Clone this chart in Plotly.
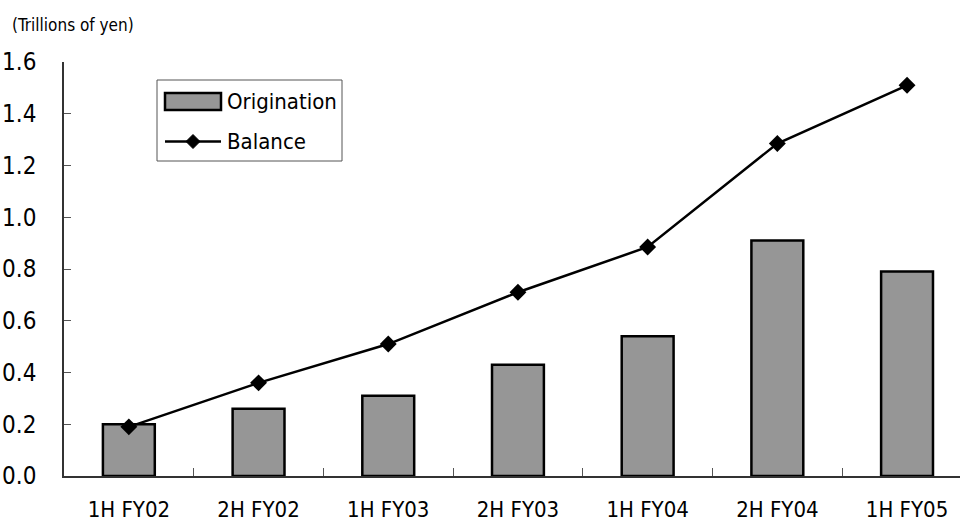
import plotly.graph_objects as go

# Half-year periods and amounts (trillions of yen)
periods = ["1H FY02", "2H FY02", "1H FY03", "2H FY03", "1H FY04", "2H FY04", "1H FY05"]
origination = [0.20, 0.26, 0.31, 0.43, 0.54, 0.91, 0.79]
balance = [0.19, 0.36, 0.51, 0.71, 0.885, 1.285, 1.51]
y_ticks = [0.0, 0.2, 0.4, 0.6, 0.8, 1.0, 1.2, 1.4, 1.6]

FONT = "DejaVu Sans Condensed, Liberation Sans Narrow, Arial Narrow, sans-serif"
BAR_FILL = "#969696"
W, H = 960, 526
L, R, T, B = 64, 0, 62, 50

fig = go.Figure()
fig.add_trace(go.Bar(
    x=periods, y=origination, name="Origination", width=0.4,
    marker=dict(color=BAR_FILL, line=dict(color="black", width=2.5)),
    showlegend=False,
))
fig.add_trace(go.Scatter(
    x=periods, y=balance, name="Balance", mode="lines+markers",
    line=dict(color="black", width=2.5),
    marker=dict(symbol="diamond", size=13, color="black"),
    showlegend=False,
))

# helpers converting page pixels to paper coordinates (for the legend box)
pw, ph = W - L - R, H - T - B
def px(x):
    return (x - L) / pw
def py(y):
    return (H - B - y) / ph

shapes = [
    dict(type="rect", xref="paper", yref="paper", x0=px(157), x1=px(342), y0=py(80), y1=py(161),
         line=dict(color="#555555", width=1), fillcolor="white", layer="above"),
    dict(type="rect", xref="paper", yref="paper", x0=px(165), x1=px(221), y0=py(93), y1=py(110),
         line=dict(color="black", width=2.5), fillcolor=BAR_FILL, layer="above"),
    dict(type="line", xref="paper", yref="paper", x0=px(165), x1=px(221), y0=py(141.5), y1=py(141.5),
         line=dict(color="black", width=2.5), layer="above"),
    dict(type="path", xref="paper", yref="paper",
         path=f"M {px(193)},{py(134.5)} L {px(200)},{py(141.5)} L {px(193)},{py(148.5)} L {px(186)},{py(141.5)} Z",
         fillcolor="black", line=dict(color="black", width=1), layer="above"),
]

annotations = [
    dict(text="Origination", xref="paper", yref="paper", x=px(225), y=py(101.5),
         xanchor="left", yanchor="middle", showarrow=False, font=dict(size=22, color="black", family=FONT)),
    dict(text="Balance", xref="paper", yref="paper", x=px(225), y=py(141.5),
         xanchor="left", yanchor="middle", showarrow=False, font=dict(size=22, color="black", family=FONT)),
    dict(text="(Trillions of yen)", xref="paper", yref="paper", x=px(10), y=py(25),
         xanchor="left", yanchor="middle", showarrow=False, font=dict(size=17, color="black", family=FONT)),
]

fig.update_layout(
    width=W, height=H,
    margin=dict(l=L, r=R, t=T, b=B, pad=0),
    paper_bgcolor="white", plot_bgcolor="white",
    font=dict(family=FONT, size=24, color="black"),
    shapes=shapes,
    annotations=annotations,
    xaxis=dict(
        range=[-0.5, -0.5 + (W - L - R) / 129.7],
        automargin=False,
        showline=True, linecolor="#333333", linewidth=1.5,
        ticks="inside", tickson="boundaries", ticklen=8, tickcolor="#555555", tickwidth=1,
        showgrid=False, zeroline=False, ticklabelstandoff=13,
        tickfont=dict(size=22, family=FONT),
    ),
    yaxis=dict(
        range=[0, 1.6], tickvals=y_ticks, ticktext=[f"{v:.1f}" for v in y_ticks],
        automargin=False,
        showline=True, linecolor="#333333", linewidth=1.5,
        ticks="inside", ticklen=7, tickcolor="#555555", tickwidth=1,
        showgrid=False, zeroline=False, ticklabelstandoff=21,
        tickfont=dict(size=24, family=FONT),
    ),
)

fig.write_html("out.html")
